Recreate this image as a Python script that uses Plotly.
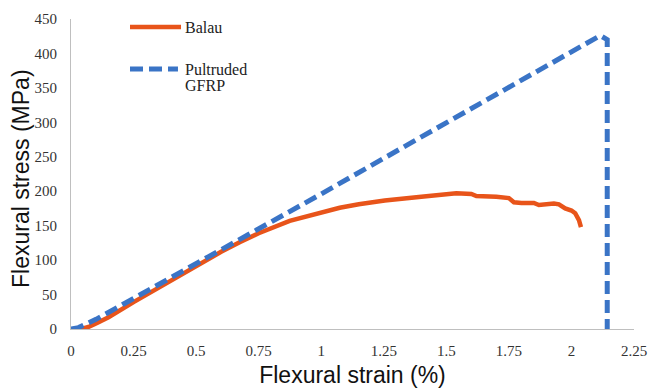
import plotly.graph_objects as go

# Balau (solid orange)
balau_strain = [0.04, 0.07, 0.1, 0.15, 0.25, 0.35, 0.5, 0.6, 0.674, 0.75, 0.874, 1.0, 1.074,
                1.15, 1.254, 1.4, 1.54, 1.6, 1.62, 1.7, 1.75, 1.77, 1.8, 1.85, 1.87,
                1.93, 1.95, 1.975, 2.0, 2.015, 2.03, 2.038]
balau_stress = [0, 3, 8, 17, 39, 60, 92, 112, 126, 139, 157, 170, 176,
                181, 186.5, 192, 197, 196, 193, 192, 190, 184, 183, 183, 180,
                182, 181, 175, 172, 168, 158, 148]

# Pultruded GFRP (dashed blue)
gfrp_strain = [0, 0.03, 0.1, 0.25, 0.5, 0.75, 1.0, 1.367, 1.75, 2.0, 2.115, 2.143, 2.143]
gfrp_stress = [0, 2, 14, 44, 94, 145, 196, 272, 350, 401, 426, 420, 0]

x_ticks = [0, 0.25, 0.5, 0.75, 1, 1.25, 1.5, 1.75, 2, 2.25]
x_labels = ["0", "0.25", "0.5", "0.75", "1", "1.25", "1.5", "1.75", "2", "2.25"]
y_ticks = [0, 50, 100, 150, 200, 250, 300, 350, 400, 450]

ORANGE = "#E8541A"
BLUE = "#3A74C6"

fig = go.Figure()
fig.add_trace(go.Scatter(
    x=balau_strain, y=balau_stress, mode="lines", name="Balau",
    line=dict(color=ORANGE, width=4.5),
))
fig.add_trace(go.Scatter(
    x=gfrp_strain, y=gfrp_stress, mode="lines", name="Pultruded GFRP",
    line=dict(color=BLUE, width=5, dash="13px,6px"),
))

# legend drawn inside the plot area (paper coordinates)
legend_font = dict(family="Liberation Serif", size=16, color="#222")
fig.add_shape(type="line", xref="paper", yref="paper", x0=0.1048, x1=0.1954, y0=0.974, y1=0.974,
              line=dict(color=ORANGE, width=4.5))
fig.add_shape(type="line", xref="paper", yref="paper", x0=0.1048, x1=0.1900, y0=0.8387, y1=0.8387,
              line=dict(color=BLUE, width=5, dash="13px,6px"))
fig.add_annotation(xref="paper", yref="paper", x=0.199, y=0.974, xanchor="left", yanchor="middle",
                   text="Balau", showarrow=False, font=legend_font, align="left")
fig.add_annotation(xref="paper", yref="paper", x=0.199, y=0.8387, xanchor="left", yanchor="middle",
                   text="Pultruded", showarrow=False, font=legend_font, align="left")
fig.add_annotation(xref="paper", yref="paper", x=0.199, y=0.784, xanchor="left", yanchor="middle",
                   text="GFRP", showarrow=False, font=legend_font, align="left")

# y-axis title
fig.add_annotation(xref="paper", yref="paper", x=-0.0888, y=0.484, xanchor="center", yanchor="middle",
                   text="Flexural stress (MPa)", textangle=-90, showarrow=False,
                   font=dict(family="Liberation Sans", size=23, color="#111"))

fig.update_layout(
    width=651, height=388,
    margin=dict(l=71, r=17, t=19, b=59, autoexpand=False),
    plot_bgcolor="white", paper_bgcolor="white",
    showlegend=False,
    xaxis=dict(
        range=[0, 2.25], tickvals=x_ticks, ticktext=x_labels,
        showgrid=False, zeroline=False, showline=True, linecolor="#BFBFBF", linewidth=1,
        ticks="", ticklabelstandoff=8, automargin=False,
        tickfont=dict(family="Liberation Serif", size=15, color="#333"),
        title=dict(text="Flexural strain (%)", font=dict(family="Liberation Sans", size=23, color="#111"),
                   standoff=9),
    ),
    yaxis=dict(
        range=[0, 450], tickvals=y_ticks,
        showgrid=False, zeroline=False, showline=True, linecolor="#BFBFBF", linewidth=1,
        ticks="", ticklabelstandoff=10, automargin=False,
        tickfont=dict(family="Liberation Serif", size=15, color="#333"),
    ),
)

fig.write_html("out.html")
